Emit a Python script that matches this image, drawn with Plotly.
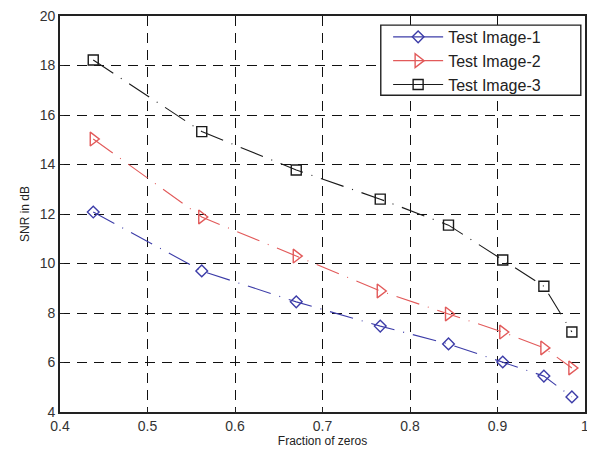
import plotly.graph_objects as go

x_vals = [0.438, 0.562, 0.670, 0.766, 0.844, 0.906, 0.953, 0.985]
img1 = [12.08, 9.70, 8.45, 7.47, 6.75, 6.02, 5.45, 4.61]
img2 = [15.03, 11.88, 10.30, 8.89, 7.96, 7.23, 6.59, 5.78]
img3 = [18.22, 15.33, 13.78, 12.60, 11.55, 10.14, 9.08, 7.23]
names = ["Test Image-1", "Test Image-2", "Test Image-3"]
x_ticks = [0.4, 0.5, 0.6, 0.7, 0.8, 0.9, 1.0]
x_ticktext = ["0.4", "0.5", "0.6", "0.7", "0.8", "0.9", "1"]
y_ticks = [4, 6, 8, 10, 12, 14, 16, 18, 20]

series = [
    (names[0], img1, "#3c3ca8", "diamond-open", 9),
    (names[1], img2, "#e25a5a", "triangle-right-open", 12),
    (names[2], img3, "#1a1a1a", "square-open", 10),
]

FONT = "Liberation Sans, Arial"
fig = go.Figure()
for name, ys, col, sym, sz in series:
    fig.add_trace(go.Scatter(
        x=x_vals, y=ys, name=name, mode="lines+markers", showlegend=False,
        line=dict(color=col, width=1.1, dash="24px,9px,1px,9px"),
        marker=dict(symbol=sym, size=sz, color=col, line=dict(color=col, width=1.4)),
    ))
for name, ys, col, sym, sz in series:
    fig.add_trace(go.Scatter(
        x=[None], y=[None], name=name, mode="lines+markers",
        line=dict(color=col, width=1.1),
        marker=dict(symbol=sym, size=sz, color=col, line=dict(color=col, width=1.4)),
    ))

axis_common = dict(
    showline=True, linecolor="#222", linewidth=1.6, mirror=True,
    ticks="inside", ticklen=4, tickcolor="#222",
    showgrid=True, gridcolor="#111", gridwidth=1.4, griddash="10px,7px",
    zeroline=False, automargin=False, ticklabeloverflow="allow",
    tickfont=dict(family=FONT, size=14, color="#333"),
)

fig.update_xaxes(range=[0.4, 1.0], tickvals=x_ticks, ticktext=x_ticktext,
                 title=dict(text="Fraction of zeros", standoff=0,
                            font=dict(family=FONT, size=12, color="#222")),
                 **axis_common)
fig.update_yaxes(range=[4, 20], tickvals=y_ticks,
                 title=dict(text="SNR in dB", standoff=8,
                            font=dict(family=FONT, size=12, color="#222")),
                 **axis_common)

# legend frame (MATLAB-style box wider than its entries)
fig.add_shape(type="rect", xref="paper", yref="paper",
              x0=0.611, x1=0.992, y0=0.80, y1=0.977, layer="above",
              line=dict(color="#222", width=1.4), fillcolor="white")

fig.update_layout(
    width=587, height=442,
    margin=dict(l=52, r=10, t=8, b=38),
    paper_bgcolor="white", plot_bgcolor="white",
    showlegend=True,
    legend=dict(x=0.625, y=0.99, xanchor="left", yanchor="top",
                bgcolor="rgba(0,0,0,0)", borderwidth=0,
                font=dict(family=FONT, size=16, color="#222"),
                tracegroupgap=0, itemwidth=50),
)

fig.write_html("out.html")
